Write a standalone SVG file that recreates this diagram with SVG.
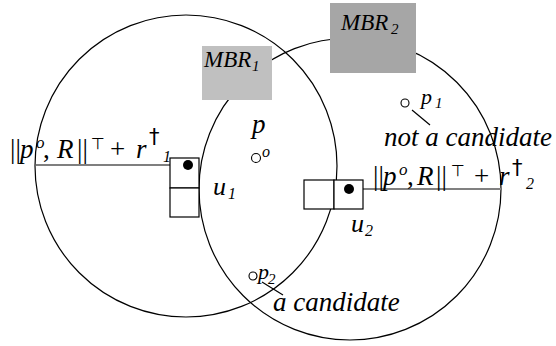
<svg xmlns="http://www.w3.org/2000/svg" width="556" height="346" viewBox="0 0 556 346">
<style>
.c{fill:none;stroke:#000;stroke-width:1.2}
.box{fill:#fff;stroke:#000;stroke-width:1.2}
text{font-family:'Liberation Serif','DejaVu Serif','Noto Serif',serif;fill:#000}
.i{font-style:italic}
.s{font-family:'DejaVu Sans',sans-serif}
.dg{font-family:'DejaVu Sans',sans-serif;font-size:21px}
.ln{stroke:#000;stroke-width:1.2;fill:none}
.pt{fill:#fff;stroke:#000;stroke-width:1.1}
</style>
<rect width="556" height="346" fill="#fff"/>
<g id="circle1"><circle class="c" cx="186" cy="166" r="151"/></g>
<g id="circle2"><circle class="c" cx="350" cy="189" r="151"/></g>
<g id="mbr1">
<rect x="202" y="46" width="70" height="54" fill="#c0c0c0"/>
<text class="i" x="204" y="67" font-size="23">MBR</text>
<text class="i" x="252" y="71" font-size="15">1</text>
</g>
<g id="mbr2">
<rect x="330" y="3" width="86" height="70" fill="#a6a6a6"/>
<text class="i" x="341" y="30" font-size="23">MBR</text>
<text class="i" x="391" y="34" font-size="15">2</text>
</g>
<g id="connectors">
<line class="ln" x1="36" y1="165" x2="188" y2="165"/>
<line x1="349" y1="189" x2="501" y2="189" stroke="#808080" stroke-width="1.8"/>
<line class="ln" x1="412" y1="110" x2="430" y2="125"/>
<line class="ln" x1="262" y1="282" x2="283" y2="295"/>
</g>
<g id="u1">
<rect class="box" x="170" y="158" width="29" height="30"/>
<rect class="box" x="170" y="188" width="29" height="29"/>
<circle cx="188" cy="165" r="5" fill="#000"/>
<text class="i" x="213" y="195" font-size="26">u</text>
<text class="i" x="228" y="199" font-size="16">1</text>
</g>
<g id="u2">
<rect class="box" x="304" y="180" width="30" height="29" fill="none"/>
<rect class="box" x="334" y="180" width="29" height="29" fill="none"/>
<circle cx="349" cy="189" r="5" fill="#000"/>
<text class="i" x="351" y="232" font-size="26">u</text>
<text class="i" x="365" y="236" font-size="16">2</text>
</g>
<g id="po">
<text class="i" x="252" y="133" font-size="27">p</text>
<text class="i" x="262" y="157" font-size="16">o</text>
<circle class="pt" cx="256" cy="158" r="4.5"/>
</g>
<g id="p1">
<circle class="pt" cx="405" cy="103" r="4"/>
<text class="i" x="421" y="104" font-size="22">p</text>
<text class="i" x="435" y="108" font-size="15">1</text>
<text class="i" x="384" y="146" font-size="27">not a candidate</text>
</g>
<g id="p2">
<circle class="pt" cx="253" cy="276" r="4"/>
<text class="i" x="258" y="279" font-size="22">p</text>
<text class="i" x="268" y="284" font-size="15">2</text>
<text class="i" x="273" y="311" font-size="27">a candidate</text>
</g>
<g id="label1">
<text x="10" y="158" font-size="27">||</text>
<text class="i" x="20" y="158" font-size="27">p</text>
<text class="i" x="36" y="148" font-size="17">o</text>
<text x="43" y="158" font-size="27">,</text>
<text class="i" x="57" y="158" font-size="27">R</text>
<text x="77" y="158" font-size="27">||</text>
<text class="s" x="91" y="149" font-size="16">⊤</text>
<text x="110" y="158" font-size="27">+</text>
<text class="i" x="136" y="158" font-size="27">r</text>
<text class="dg" x="149" y="144">†</text>
<text class="i" x="163" y="162" font-size="16">1</text>
</g>
<g id="label2">
<text x="373" y="185" font-size="27">||</text>
<text class="i" x="383" y="185" font-size="27">p</text>
<text class="i" x="399" y="175" font-size="17">o</text>
<text x="407" y="185" font-size="27">,</text>
<text class="i" x="417" y="185" font-size="27">R</text>
<text x="436" y="185" font-size="27">||</text>
<text class="s" x="451" y="176" font-size="16">⊤</text>
<text x="474" y="185" font-size="27">+</text>
<text class="i" x="499" y="185" font-size="27">r</text>
<text class="dg" x="512" y="175">†</text>
<text class="i" x="526" y="189" font-size="16">2</text>
</g>
</svg>
